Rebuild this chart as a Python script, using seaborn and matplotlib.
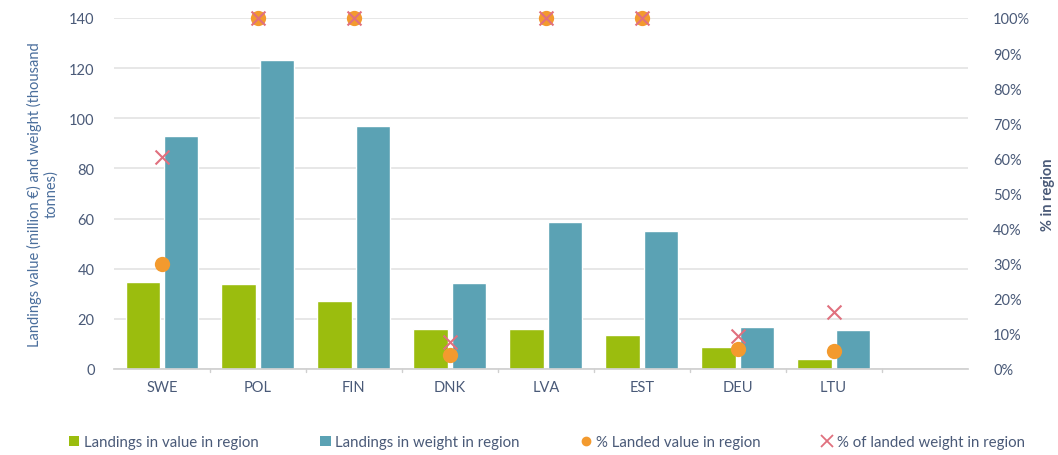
import numpy as np
import pandas as pd
import matplotlib
matplotlib.use("Agg")
import matplotlib.pyplot as plt
from matplotlib.lines import Line2D
from matplotlib.patches import Patch
import seaborn as sns

countries = ["SWE", "POL", "FIN", "DNK", "LVA", "EST", "DEU", "LTU"]
value_region = [34.7, 34.0, 27.2, 16.0, 16.0, 13.6, 8.8, 4.0]
weight_region = [93.0, 123.3, 97.0, 34.3, 58.7, 55.0, 16.8, 15.6]
pct_value = [30.0, 100.0, 100.0, 4.0, 100.0, 100.0, 5.7, 5.1]
pct_weight = [60.5, 100.0, 100.0, 7.7, 100.0, 100.0, 9.4, 16.2]
series_names = ["Landings in value in region", "Landings in weight in region",
                "% Landed value in region", "% of landed weight in region"]

GREEN = "#9BBD0E"
BLUE = "#5BA2B4"
ORANGE = "#F39A2E"
RED = "#E0707E"
TXT = "#4A5A78"
GRID = "#E3E3E3"

sns.set_theme(style="white")
plt.rcParams["font.family"] = ["Lato", "DejaVu Sans"]

fig = plt.figure(figsize=(10.58, 4.56), dpi=100)
ax = fig.add_axes([114/1058, 1 - 370/456, (968-114)/1058, (370-19)/456])

bars = pd.DataFrame({
    "country": countries * 2,
    "val": value_region + weight_region,
    "series": [series_names[0]] * len(countries) + [series_names[1]] * len(countries),
})
sns.barplot(data=bars, x="country", y="val", hue="series", order=countries,
            hue_order=series_names[:2], palette=[GREEN, BLUE], width=0.8,
            saturation=1, ax=ax, legend=False, zorder=2)
for p in ax.patches:
    w = p.get_width()
    p.set_width(w * 0.9)
    p.set_x(p.get_x() + w * 0.05)

XMAX = 8.4
ax.set_ylim(0, 140)
ax.set_yticks(np.arange(0, 141, 20))
ax.set_xlim(-0.5, XMAX)
ax.yaxis.grid(True, color=GRID, linewidth=1.2, zorder=0)
ax.set_axisbelow(True)
for s in ["top", "right", "left"]:
    ax.spines[s].set_visible(False)
ax.spines["bottom"].set_color("#D0D0D0")
ax.set_xlabel("")
ax.set_ylabel("Landings value (million €) and weight (thousand\ntonnes)",
              color="#4A6E9C", fontsize=10.5, labelpad=8, linespacing=1.1)
ax.tick_params(axis="y", colors=TXT, labelsize=10.5, length=0, pad=14)
ax.tick_params(axis="x", colors=TXT, labelsize=10.5, length=0, pad=8)
for b in np.arange(0.5, 8.5, 1.0):
    ax.plot([b, b], [0, -1.2], color="#D0D0D0", lw=1, clip_on=False)

ax2 = ax.twinx()
pts = pd.DataFrame({"country": countries, "pv": pct_value, "pw": pct_weight})
sns.stripplot(data=pts, x="country", y="pv", order=countries, jitter=False,
              color=ORANGE, size=11, linewidth=0, ax=ax2, zorder=4)
sns.stripplot(data=pts, x="country", y="pw", order=countries, jitter=False,
              color=RED, marker="x", size=10, linewidth=1.5, ax=ax2, zorder=5)
for c in ax2.collections:
    c.set_clip_on(False)
ax2.set_xlim(-0.5, XMAX)
ax2.set_ylim(0, 100)
ax2.set_yticks(np.arange(0, 101, 10))
ax2.set_yticklabels([f"{v}%" for v in range(0, 101, 10)])
ax2.tick_params(axis="y", colors=TXT, labelsize=10.5, length=0, pad=18)
for s in ["top", "right", "left", "bottom"]:
    ax2.spines[s].set_visible(False)
ax2.set_xlabel("")
ax2.set_ylabel("% in region", color=TXT, fontsize=10.5, fontweight="bold", labelpad=8)
ax2.grid(False)
ax.set_xticks(range(len(countries)))
ax.set_xticklabels(countries)

handles = [
    Patch(facecolor=GREEN, edgecolor="none"),
    Patch(facecolor=BLUE, edgecolor="none"),
    Line2D([], [], marker="o", color=ORANGE, linestyle="none", markersize=6),
    Line2D([], [], marker="x", color=RED, linestyle="none", markersize=8, markeredgewidth=1.3),
]
fig.legend(handles, series_names, loc="center", bbox_to_anchor=(0.517, 1 - 443/456),
           ncol=4, frameon=False, fontsize=10.8, labelcolor=TXT, handlelength=0.7,
           handleheight=0.7, handletextpad=0.3, columnspacing=4.1)

fig.savefig("out.png", dpi=100, facecolor="white")
